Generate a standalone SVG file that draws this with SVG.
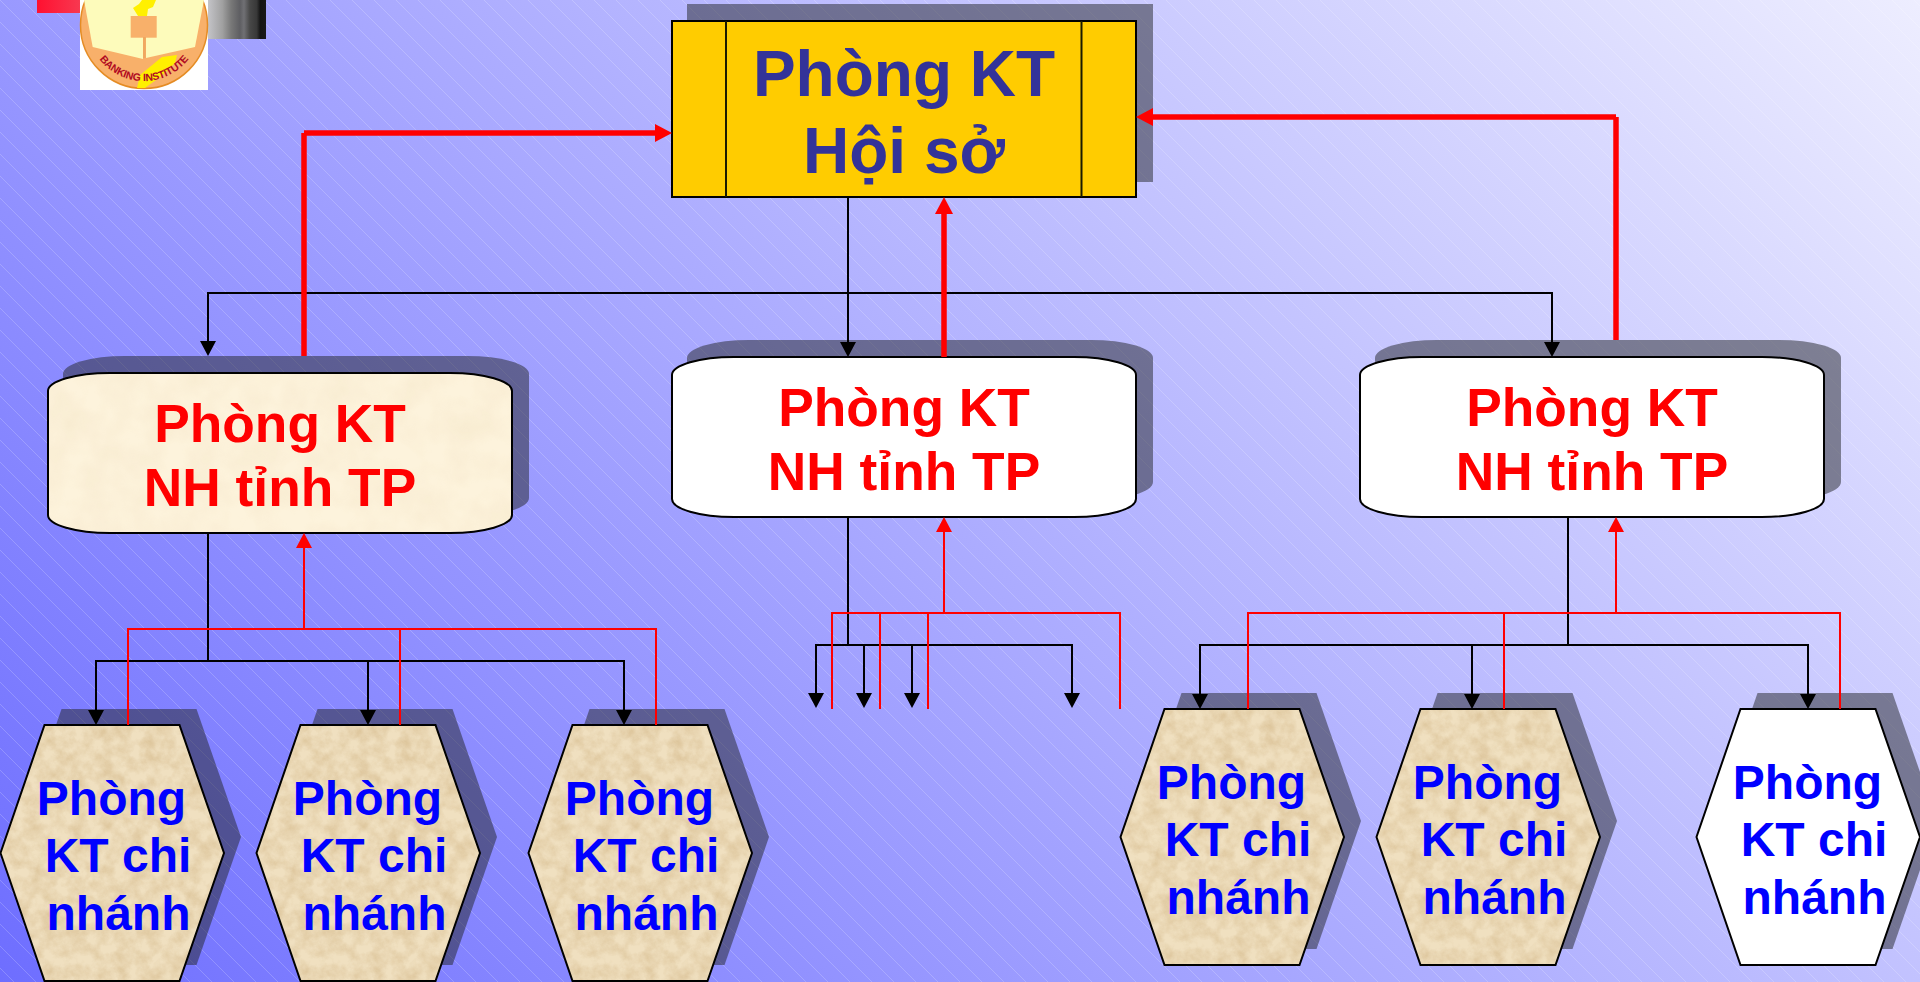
<svg xmlns="http://www.w3.org/2000/svg" width="1920" height="982" viewBox="0 0 1920 982">
<style>
text{font-family:"Liberation Sans",Arial,sans-serif;font-weight:700;text-anchor:middle}
.shadow{fill:#222428;fill-opacity:.5}
.edge{fill:none;stroke:#000;stroke-width:2}
.k{fill:none;stroke:#000;stroke-width:2}
.r{fill:none;stroke:#f00;stroke-width:2}
.rt{fill:none;stroke:#f00;stroke-width:5.5}
.title{font-size:64px;fill:#333399}
.mid{font-size:53.3px;fill:#f00}
.hx{font-size:48px;fill:#00f}
.tan{fill:#f0e0c0;filter:url(#parchment)}
.cream{fill:#fdf3dc;filter:url(#cream)}
</style>
<defs>
<linearGradient id="bg" gradientUnits="userSpaceOnUse" x1="0" y1="982" x2="1459" y2="-477">
<stop offset="0" stop-color="#6e6eff"/><stop offset="1" stop-color="#eeeeff"/>
</linearGradient>
<pattern id="hatch" patternUnits="userSpaceOnUse" width="22" height="22">
<path d="M-2 -2L24 24M-24 -2L2 24M20 -2L46 24" stroke="#fff" stroke-opacity=".28" stroke-width=".7" fill="none"/>
</pattern>
<linearGradient id="redbar" x1="0" x2="1" y1="0" y2="0"><stop offset="0" stop-color="#ff1030"/><stop offset="1" stop-color="#f83850"/></linearGradient>
<linearGradient id="greybar" x1="0" x2="1" y1="0" y2="0">
<stop offset="0" stop-color="#c4c4c8"/><stop offset=".25" stop-color="#a0a0a0"/><stop offset=".4" stop-color="#787878"/><stop offset=".55" stop-color="#5e5e62"/><stop offset=".62" stop-color="#707074"/><stop offset=".72" stop-color="#484848"/><stop offset=".84" stop-color="#383838"/><stop offset=".9" stop-color="#141414"/><stop offset="1" stop-color="#181818"/>
</linearGradient>
<filter id="parchment" x="0" y="0" width="1" height="1" color-interpolation-filters="sRGB">
<feTurbulence type="fractalNoise" baseFrequency=".07" numOctaves="5" seed="7" result="n"/>
<feColorMatrix in="n" type="matrix" values="0 0 0 0 .78  0 0 0 0 .65  0 0 0 0 .44  .8 0 0 0 -.26" result="c"/>
<feComposite in="c" in2="SourceAlpha" operator="in" result="t"/>
<feMerge><feMergeNode in="SourceGraphic"/><feMergeNode in="t"/></feMerge>
</filter>
<filter id="cream" x="0" y="0" width="1" height="1" color-interpolation-filters="sRGB">
<feTurbulence type="fractalNoise" baseFrequency=".03" numOctaves="3" seed="3" result="n"/>
<feColorMatrix in="n" type="matrix" values="0 0 0 0 .85  0 0 0 0 .75  0 0 0 0 .55  .22 0 0 0 -.07" result="c"/>
<feComposite in="c" in2="SourceAlpha" operator="in" result="t"/>
<feMerge><feMergeNode in="SourceGraphic"/><feMergeNode in="t"/></feMerge>
</filter>
<marker id="ak" markerUnits="userSpaceOnUse" markerWidth="15" markerHeight="16" refX="7" refY="8" orient="auto"><path d="M0 0L15 8L0 16z" fill="#000"/></marker>
<marker id="ar" markerUnits="userSpaceOnUse" markerWidth="15" markerHeight="16" refX="7" refY="8" orient="auto"><path d="M0 0L15 8L0 16z" fill="#f00"/></marker>
<marker id="at" markerUnits="userSpaceOnUse" markerWidth="17" markerHeight="18" refX="8" refY="9" orient="auto"><path d="M0 0L17 9L0 18z" fill="#f00"/></marker>
<polygon id="hex" points="44.5,0 179.5,0 224,128 179.5,256 44.5,256 0.5,128"/>
<rect id="pill" x="0" y="0" width="464" height="160" rx="62" ry="18"/>
<rect id="pillshadow" x="15" y="-17" width="466" height="160" rx="62" ry="18"/>
</defs>
<rect width="1920" height="982" fill="url(#bg)"/>
<rect width="1920" height="982" fill="url(#hatch)"/>

<g id="logo">
<rect x="37" y="0" width="43" height="13" fill="url(#redbar)"/>
<rect x="208" y="0" width="58" height="39" fill="url(#greybar)"/>
<rect x="80" y="0" width="128" height="90" fill="#fff"/>
<circle cx="144" cy="25" r="63.5" fill="#f8b06a" stroke="#e58c24" stroke-width="1.5"/>
<rect x="85" y="0" width="118" height="5" fill="#f99f80"/>
<polygon points="84,0 92.7,47 143,59 143,0" fill="#fdfbbb"/>
<polygon points="146,0 146,58 195,47 204,0" fill="#fdfbbb"/>
<polygon points="133,8 139,4 142,0 156,0 153,7 148,9 147,16 138,16" fill="#fff000"/>
<polygon points="137,88 140,75 162,57 177,55 175,63 160,77 145,88" fill="#fff000"/>
<rect x="130.7" y="16" width="26" height="21.7" fill="#f8b06a"/>
<rect x="143" y="37" width="2.6" height="21" fill="#f0a860"/>
<path id="logoArc" d="M100 60A56.5 56.5 0 0 0 188 60" fill="none"/>
<text font-size="10.5" fill="#b00a22" letter-spacing="-.2"><textPath href="#logoArc" startOffset="50%">BANKING INSTITUTE</textPath></text>
</g>

<g id="node-hoi-so">
<rect class="shadow" x="687" y="4" width="466" height="178"/>
<rect x="672" y="21" width="464" height="176" fill="#ffcc00" stroke="#000" stroke-width="2"/>
<path d="M726 21V197M1081.5 21V197" stroke="#1a1a00" stroke-width="2" fill="none"/>
<text class="title" x="904" y="96">Phòng KT</text>
<text class="title" x="904" y="173">Hội sở</text>
</g>

<g id="node-tinh-1" transform="translate(48 373)">
<use href="#pillshadow" class="shadow"/>
<use href="#pill" class="cream"/>
<use href="#pill" class="edge"/>
<text class="mid" x="232" y="69">Phòng KT</text>
<text class="mid" x="232" y="133">NH tỉnh TP</text>
</g>
<g id="node-tinh-2" transform="translate(672 357)">
<use href="#pillshadow" class="shadow"/>
<use href="#pill" class="edge" style="fill:#fff"/>
<text class="mid" x="232" y="69">Phòng KT</text>
<text class="mid" x="232" y="133">NH tỉnh TP</text>
</g>
<g id="node-tinh-3" transform="translate(1360 357)">
<use href="#pillshadow" class="shadow"/>
<use href="#pill" class="edge" style="fill:#fff"/>
<text class="mid" x="232" y="69">Phòng KT</text>
<text class="mid" x="232" y="133">NH tỉnh TP</text>
</g>

<g id="node-cn-1" transform="translate(0 725)">
<use href="#hex" class="shadow" x="17" y="-16"/>
<use href="#hex" class="tan"/><use href="#hex" class="edge"/>
<text class="hx" x="111.5" y="90">Phòng</text><text class="hx" x="118" y="147">KT chi</text><text class="hx" x="118.5" y="205">nhánh</text>
</g>
<g id="node-cn-2" transform="translate(256 725)">
<use href="#hex" class="shadow" x="17" y="-16"/>
<use href="#hex" class="tan"/><use href="#hex" class="edge"/>
<text class="hx" x="111.5" y="90">Phòng</text><text class="hx" x="118" y="147">KT chi</text><text class="hx" x="118.5" y="205">nhánh</text>
</g>
<g id="node-cn-3" transform="translate(528 725)">
<use href="#hex" class="shadow" x="17" y="-16"/>
<use href="#hex" class="tan"/><use href="#hex" class="edge"/>
<text class="hx" x="111.5" y="90">Phòng</text><text class="hx" x="118" y="147">KT chi</text><text class="hx" x="118.5" y="205">nhánh</text>
</g>
<g id="node-cn-4" transform="translate(1120 709)">
<use href="#hex" class="shadow" x="17" y="-16"/>
<use href="#hex" class="tan"/><use href="#hex" class="edge"/>
<text class="hx" x="111.5" y="90">Phòng</text><text class="hx" x="118" y="147">KT chi</text><text class="hx" x="118.5" y="205">nhánh</text>
</g>
<g id="node-cn-5" transform="translate(1376 709)">
<use href="#hex" class="shadow" x="17" y="-16"/>
<use href="#hex" class="tan"/><use href="#hex" class="edge"/>
<text class="hx" x="111.5" y="90">Phòng</text><text class="hx" x="118" y="147">KT chi</text><text class="hx" x="118.5" y="205">nhánh</text>
</g>
<g id="node-cn-6" transform="translate(1696 709)">
<use href="#hex" class="shadow" x="17" y="-16"/>
<use href="#hex" class="edge" style="fill:#fff"/>
<text class="hx" x="111.5" y="90">Phòng</text><text class="hx" x="118" y="147">KT chi</text><text class="hx" x="118.5" y="205">nhánh</text>
</g>

<g id="connectors">
<path class="k" d="M848 197V293"/>
<path class="k" d="M209 293H1552"/>
<path class="k" d="M208 292V348" marker-end="url(#ak)"/>
<path class="k" d="M848 293V349" marker-end="url(#ak)"/>
<path class="k" d="M1552 292V349" marker-end="url(#ak)"/>
<path class="rt" d="M304 356V133"/>
<path class="rt" d="M304 133H663" marker-end="url(#at)"/>
<path class="rt" d="M944 357V206" marker-end="url(#at)"/>
<path class="rt" d="M1616 340V117"/>
<path class="rt" d="M1616 117H1145" marker-end="url(#at)"/>
<path class="k" d="M208 533V661"/>
<path class="k" d="M95 661H625"/>
<path class="k" d="M96 660V717" marker-end="url(#ak)"/>
<path class="k" d="M368 661V717" marker-end="url(#ak)"/>
<path class="k" d="M624 660V717" marker-end="url(#ak)"/>
<path class="r" d="M304 629V541" marker-end="url(#ar)"/>
<path class="r" d="M127 629H657"/>
<path class="r" d="M128 628V725M400 629V725M656 628V725"/>
<path class="k" d="M848 517V645"/>
<path class="k" d="M815 645H1073"/>
<path class="k" d="M816 644V700" marker-end="url(#ak)"/>
<path class="k" d="M864 645V700" marker-end="url(#ak)"/>
<path class="k" d="M912 645V700" marker-end="url(#ak)"/>
<path class="k" d="M1072 644V700" marker-end="url(#ak)"/>
<path class="r" d="M944 613V525" marker-end="url(#ar)"/>
<path class="r" d="M831 613H1121"/>
<path class="r" d="M832 612V709M880 613V709M928 613V709M1120 612V709"/>
<path class="k" d="M1568 517V645"/>
<path class="k" d="M1199 645H1809"/>
<path class="k" d="M1200 644V701" marker-end="url(#ak)"/>
<path class="k" d="M1472 645V701" marker-end="url(#ak)"/>
<path class="k" d="M1808 644V701" marker-end="url(#ak)"/>
<path class="r" d="M1616 613V525" marker-end="url(#ar)"/>
<path class="r" d="M1247 613H1841"/>
<path class="r" d="M1248 612V709M1504 613V709M1840 612V709"/>
</g>
</svg>
